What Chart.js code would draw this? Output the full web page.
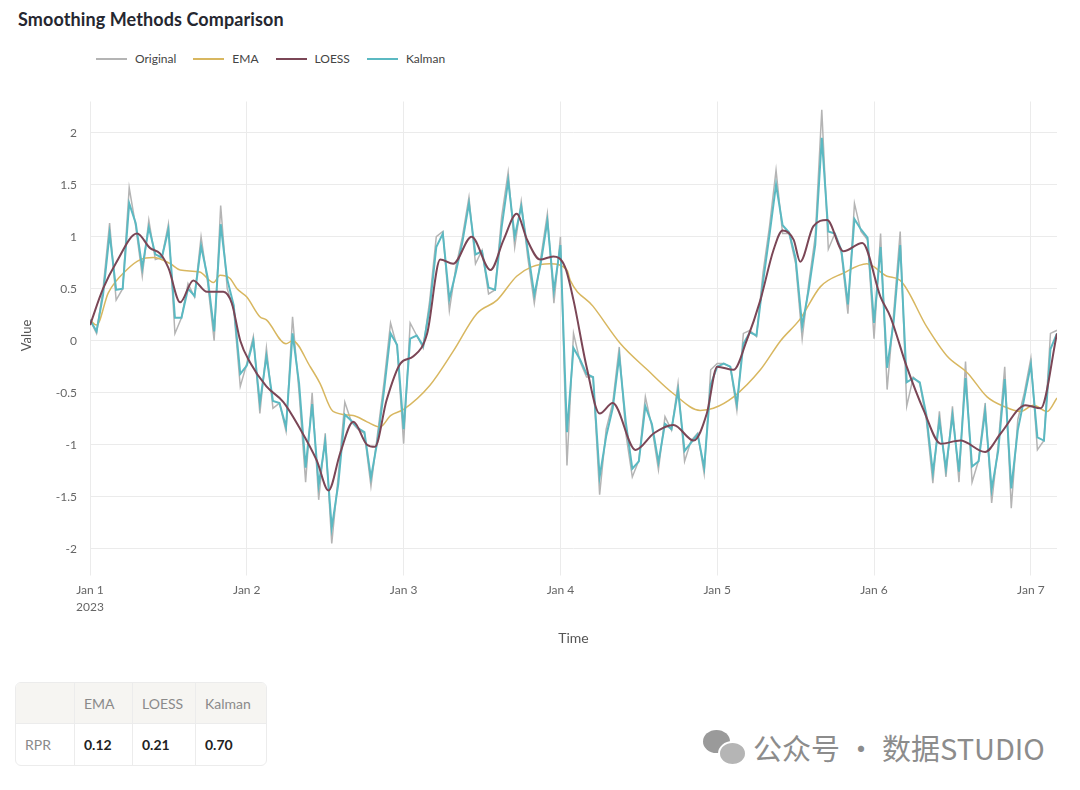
<!DOCTYPE html>
<html>
<head>
<meta charset="utf-8">
<script src="https://cdn.jsdelivr.net/npm/chart.js@4.4.1/dist/chart.umd.min.js"></script>
<style>
  body { margin: 0; width: 1080px; height: 790px; background: #fff; font-family: Lato, "Open Sans", sans-serif; position: relative; overflow: hidden; }
  .title { position: absolute; left: 18px; top: 8px; font-size: 18px; font-weight: 700; color: #262730; letter-spacing: 0.1px; }
  .legend { position: absolute; left: 96px; top: 51px; display: flex; align-items: center; font-size: 12px; color: #444; }
  .legend-item { display: flex; align-items: center; margin-right: 17px; }
  .legend-line { width: 31px; height: 2px; margin-right: 8px; }
  .chart-wrap { position: absolute; left: 0; top: 75px; width: 1080px; height: 580px; }
  table.rpr { position: absolute; left: 15px; top: 682px; border-collapse: separate; border-spacing: 0; border: 1px solid #ececec; border-radius: 6px; font-size: 14px; overflow: hidden; }
  table.rpr th, table.rpr td { border-right: 1px solid #ececec; padding: 0 9px; text-align: left; }
  table.rpr th:last-child, table.rpr td:last-child { border-right: none; }
  table.rpr th { height: 40px; background: #f6f5f2; font-weight: 400; color: #8a8a8a; border-bottom: 1px solid #ececec; }
  table.rpr td { height: 41px; color: #222; font-weight: 700; }
  table.rpr td.row-label { color: #8a8a8a; font-weight: 400; }
  .mark { position: absolute; left: 703px; top: 726px; display: flex; align-items: center; font-size: 29px; color: #8c8c8c; font-family: "Noto Sans CJK SC", sans-serif; }
  .wx { position: relative; width: 42px; height: 34px; margin-right: 8px; }
  .wx span { position: absolute; background: #9a9a9a; border-radius: 50%; }
</style>
</head>
<body>
<div class="title">Smoothing Methods Comparison</div>
<div class="legend" id="customLegend"></div>
<div class="chart-wrap"><canvas id="smoothChart"></canvas></div>

<table class="rpr">
  <tr><th style="width:40px"></th><th style="width:39px">EMA</th><th style="width:44px">LOESS</th><th style="width:52px">Kalman</th></tr>
  <tr><td class="row-label">RPR</td><td>0.12</td><td>0.21</td><td>0.70</td></tr>
</table>

<div class="mark">
  <div class="wx"><span style="left:0;top:0;width:27px;height:23px"></span><span style="left:15px;top:11px;width:25px;height:21px;background:#b5b5b5;border:2px solid #fff"></span></div>
  公众号 · 数据STUDIO
</div>

<script>
// Hourly readings, Jan 1 00:00 onwards (index = hour)
const original = [
  0.20, 0.07, 0.50, 1.13, 0.39, 0.50, 1.47, 1.10, 0.62, 1.16,
  0.78, 0.80, 1.12, 0.07, 0.22, 0.55, 0.42, 1.00, 0.56, 0.00,
  1.30, 0.50, 0.30, -0.44, -0.22, 0.04, -0.70, -0.07, -0.65, -0.60,
  -0.87, 0.23, -0.50, -1.36, -0.50, -1.53, -0.89, -1.95, -1.30, -0.59,
  -0.78, -0.85, -0.89, -1.40, -0.90, -0.40, 0.17, -0.06, -0.99, 0.17,
  0.05, -0.07, 0.39, 1.00, 1.05, 0.29, 0.71, 1.00, 1.38, 0.74,
  0.87, 0.45, 0.49, 1.19, 1.62, 0.90, 1.34, 0.80, 0.36, 0.80,
  1.22, 0.36, 1.00, -1.20, 0.07, -0.20, -0.35, -0.35, -1.48, -0.85,
  -0.60, -0.06, -0.89, -1.31, -1.15, -0.54, -0.83, -1.24, -0.73, -0.86,
  -0.41, -1.16, -0.96, -0.89, -1.28, -0.28, -0.22, -0.22, -0.25, -0.67,
  0.07, 0.10, 0.04, 0.65, 1.10, 1.64, 1.03, 1.03, 0.74, 0.02,
  0.55, 1.00, 2.22, 0.88, 1.03, 0.84, 0.26, 1.32, 1.05, 0.97,
  0.02, 1.03, -0.47, 0.26, 1.05, -0.63, -0.35, -0.41, -0.76, -1.37,
  -0.68, -1.31, -0.63, -1.36, -0.20, -1.36, -1.15, -0.60, -1.56, -1.00,
  -0.25, -1.61, -0.76, -0.50, -0.17, -1.05, -0.96, 0.07, 0.10
];

const kalman = [
  0.20, 0.09, 0.44, 1.03, 0.49, 0.50, 1.32, 1.13, 0.70, 1.09,
  0.83, 0.80, 1.07, 0.22, 0.22, 0.50, 0.43, 0.91, 0.61, 0.09,
  1.12, 0.59, 0.34, -0.32, -0.24, 0.00, -0.60, -0.15, -0.58, -0.60,
  -0.83, 0.07, -0.41, -1.22, -0.61, -1.39, -0.97, -1.80, -1.38, -0.71,
  -0.77, -0.84, -0.88, -1.32, -0.96, -0.48, 0.07, -0.04, -0.85, 0.02,
  0.05, -0.05, 0.32, 0.90, 1.03, 0.40, 0.66, 0.95, 1.32, 0.83,
  0.86, 0.51, 0.49, 1.09, 1.54, 1.00, 1.29, 0.87, 0.44, 0.75,
  1.15, 0.48, 0.92, -0.88, -0.07, -0.18, -0.32, -0.35, -1.31, -0.92,
  -0.65, -0.15, -0.78, -1.23, -1.16, -0.63, -0.80, -1.17, -0.80, -0.85,
  -0.48, -1.06, -0.98, -0.90, -1.22, -0.42, -0.25, -0.22, -0.25, -0.61,
  -0.03, 0.08, 0.05, 0.56, 1.02, 1.50, 1.11, 1.04, 0.79, 0.14,
  0.49, 0.92, 1.95, 1.05, 1.03, 0.87, 0.35, 1.17, 1.07, 0.99,
  0.17, 0.90, -0.26, 0.18, 0.92, -0.40, -0.36, -0.40, -0.71, -1.27,
  -0.77, -1.23, -0.72, -1.26, -0.36, -1.21, -1.16, -0.68, -1.43, -1.06,
  -0.37, -1.42, -0.86, -0.55, -0.23, -0.93, -0.96, -0.08, 0.07
];

// LOESS and EMA read at the hours where the curves bend
const loessHours = [0, 2, 4, 7.2, 9.2, 10.7, 12, 13.8, 15.8, 17.9, 20.4, 21.7, 23, 24.5, 27, 29.6, 32, 34.7, 36.5, 38.3,
  40.3, 42.4, 43.6, 45.4, 47.5, 49.5, 51.6, 53.6, 55.6, 58.4, 61.3, 63.3, 65.3, 66.9, 68.9, 70.9, 72.7, 74, 76, 78,
  80, 83.5, 86.3, 89.3, 92.4, 94.4, 96, 98.5, 100.5, 102.6, 104.6, 106, 107.7, 108.7, 110.7, 112.8, 115.3, 118.2, 121, 122.5,
  125, 127.6, 130.2, 133.2, 137, 139.4, 143.2, 145.5, 148];
const loessValues = [0.15, 0.50, 0.75, 1.03, 0.89, 0.84, 0.70, 0.37, 0.58, 0.47, 0.47, 0.36, 0.00, -0.21, -0.44, -0.59, -0.83, -1.15, -1.44, -1.08,
  -0.78, -1.00, -1.02, -0.57, -0.22, -0.15, 0.07, 0.78, 0.74, 1.00, 0.68, 0.97, 1.22, 0.97, 0.78, 0.81, 0.71, 0.39, -0.25, -0.70,
  -0.60, -1.05, -0.89, -0.81, -0.96, -0.70, -0.25, -0.28, 0.00, 0.39, 0.87, 1.06, 0.97, 0.76, 1.10, 1.16, 0.86, 0.94, 0.42, 0.23,
  -0.25, -0.67, -0.99, -0.96, -1.07, -0.89, -0.62, -0.65, 0.07];

const emaHours = [0, 1, 2.8, 5.6, 7.7, 9.7, 12.3, 13.8, 16.8, 18.9, 19.9, 21.4, 22.5, 24, 26, 27, 30, 31, 33.7, 35.2,
  37.2, 40.3, 42.4, 44.4, 46, 48, 52, 55.6, 59.2, 62.3, 65.3, 67.6, 70.4, 73, 73.5, 77, 81.2, 85.3, 89.3, 93.4,
  95.4, 98.5, 102.6, 105.7, 108.7, 111.8, 115.3, 118.9, 122, 124, 128.1, 131.2, 134.3, 137.3, 139.8, 142.4, 144.4, 146.5, 148];
const emaValues = [0.20, 0.15, 0.46, 0.68, 0.78, 0.80, 0.74, 0.68, 0.66, 0.56, 0.63, 0.60, 0.50, 0.42, 0.23, 0.20, -0.03, 0.00, -0.25, -0.41,
  -0.68, -0.72, -0.78, -0.83, -0.72, -0.66, -0.43, -0.10, 0.26, 0.39, 0.62, 0.71, 0.74, 0.68, 0.58, 0.33, -0.03, -0.28, -0.51, -0.67,
  -0.65, -0.54, -0.28, 0.00, 0.21, 0.52, 0.65, 0.74, 0.62, 0.58, 0.13, -0.15, -0.31, -0.54, -0.63, -0.68, -0.62, -0.68, -0.55];

const dayTicks = ['Jan 1', 'Jan 2', 'Jan 3', 'Jan 4', 'Jan 5', 'Jan 6', 'Jan 7'];
const yTicks = [-2, -1.5, -1, -0.5, 0, 0.5, 1, 1.5, 2];

const seriesNames = ['Original', 'EMA', 'LOESS', 'Kalman'];
const seriesColors = ['#b4b4b4', '#d8b760', '#7b4656', '#5bb9c2'];

// Build point lists
const toPoints = (hours, values) => values.map((v, i) => ({ x: hours[i], y: v }));
const hourly = values => values.map((v, i) => ({ x: i, y: v }));

// Custom legend
const legendContainer = document.getElementById('customLegend');
seriesNames.forEach((name, index) => {
  const item = document.createElement('div');
  item.className = 'legend-item';
  item.innerHTML = `<div class="legend-line" style="background-color: ${seriesColors[index]}"></div><span>${name}</span>`;
  legendContainer.appendChild(item);
});

const gridColor = '#ebebeb';
const tickFont = { family: 'Lato', size: 12, lineHeight: 1.4 };

const ctx = document.getElementById('smoothChart').getContext('2d');
new Chart(ctx, {
  type: 'line',
  data: {
    datasets: [
      { label: 'Original', data: hourly(original), borderColor: seriesColors[0], borderWidth: 1.5, order: 4 },
      { label: 'EMA', data: toPoints(emaHours, emaValues), borderColor: seriesColors[1], borderWidth: 1.5, cubicInterpolationMode: 'monotone', order: 3 },
      { label: 'LOESS', data: toPoints(loessHours, loessValues), borderColor: seriesColors[2], borderWidth: 2, cubicInterpolationMode: 'monotone', order: 1 },
      { label: 'Kalman', data: hourly(kalman), borderColor: seriesColors[3], borderWidth: 2, order: 2 }
    ]
  },
  options: {
    responsive: true,
    maintainAspectRatio: false,
    animation: false,
    parsing: false,
    elements: { point: { radius: 0 } },
    layout: { padding: { left: 10, right: 23, top: 26.5, bottom: 0 } },
    plugins: {
      legend: { display: false },
      tooltip: { enabled: false }
    },
    scales: {
      x: {
        type: 'linear',
        min: 0,
        max: 148,
        border: { display: false },
        grid: { color: gridColor, drawTicks: true, tickLength: 6, tickColor: gridColor },
        afterBuildTicks: scale => { scale.ticks = dayTicks.map((d, i) => ({ value: i * 24 })); },
        ticks: {
          autoSkip: false,
          maxRotation: 0,
          padding: 6,
          color: '#666',
          font: tickFont,
          callback: value => {
            const label = dayTicks[value / 24];
            return value === 0 ? [label, '2023'] : label;
          }
        },
        title: { display: true, text: 'Time', color: '#555', font: { family: 'Lato', size: 14 }, padding: { top: 0, bottom: 8.6 } },
        afterFit: scale => { scale.height = 85.5; }
      },
      y: {
        min: -2.2,
        max: 2.3,
        border: { display: false },
        grid: { color: gridColor, drawTicks: false },
        afterBuildTicks: scale => { scale.ticks = yTicks.map(v => ({ value: v })); },
        ticks: { padding: 13, color: '#666', font: tickFont, callback: value => String(value) },
        title: { display: true, text: 'Value', color: '#555', font: { family: 'Lato', size: 13 }, padding: { top: 9, bottom: 0 } },
        afterFit: scale => { scale.width = 80; }
      }
    }
  }
});
</script>
</body>
</html>
